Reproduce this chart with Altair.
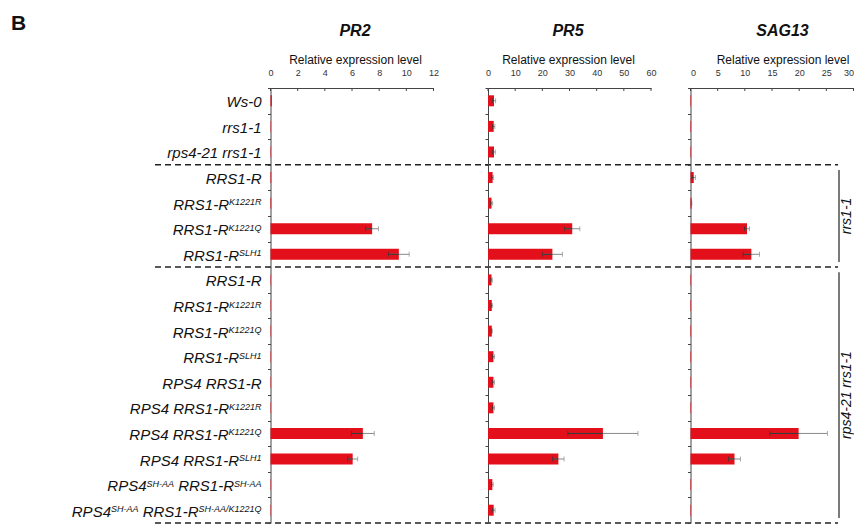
import re
import altair as alt
import pandas as pd

# ---------------- data ----------------
panel_letter = "B"
labels = [
    "Ws-0", "rrs1-1", "rps4-21 rrs1-1",
    "RRS1-R", "RRS1-R^{K1221R}", "RRS1-R^{K1221Q}", "RRS1-R^{SLH1}",
    "RRS1-R", "RRS1-R^{K1221R}", "RRS1-R^{K1221Q}", "RRS1-R^{SLH1}",
    "RPS4 RRS1-R", "RPS4 RRS1-R^{K1221R}", "RPS4 RRS1-R^{K1221Q}", "RPS4 RRS1-R^{SLH1}",
    "RPS4^{SH-AA} RRS1-R^{SH-AA}", "RPS4^{SH-AA} RRS1-R^{SH-AA/K1221Q}",
]
group_names = ["", "rrs1-1", "rps4-21 rrs1-1"]
group_sizes = [3, 4, 10]

genes = ["PR2", "PR5", "SAG13"]
axis_title = "Relative expression level"
axis_max = [12, 60, 30]
tick_values = [[0, 2, 4, 6, 8, 10, 12], [0, 10, 20, 30, 40, 50, 60], [0, 5, 10, 15, 20, 25, 30]]

pr2_mean = [0.1, 0.03, 0.03, 0.05, 0.05, 7.48, 9.45, 0.03, 0.03, 0.03, 0.03, 0.03, 0.03, 6.8, 6.05, 0.03, 0.03]
pr2_err = [0, 0, 0, 0, 0, 0.47, 0.76, 0, 0, 0, 0, 0, 0, 0.84, 0.37, 0, 0]
pr5_mean = [2.2, 2.1, 2.2, 1.7, 1.3, 31.0, 23.7, 1.3, 1.4, 1.4, 2.0, 2.0, 2.0, 42.3, 25.9, 1.6, 2.1]
pr5_err = [0.6, 0.4, 0.5, 0.3, 0.4, 2.8, 3.7, 0.3, 0.3, 0.2, 0.4, 0.4, 0.4, 12.9, 2.1, 0.3, 0.5]
sag13_mean = [0.1, 0.1, 0.1, 0.6, 0.2, 10.4, 11.2, 0.1, 0.1, 0.1, 0.1, 0.1, 0.1, 19.9, 8.1, 0.1, 0.1]
sag13_err = [0, 0, 0, 0.3, 0.05, 0.45, 1.5, 0, 0, 0, 0, 0, 0, 5.3, 1.1, 0, 0]
means = [pr2_mean, pr5_mean, sag13_mean]
errs = [pr2_err, pr5_err, sag13_err]

# ---------------- layout / style ----------------
FONT = "Liberation Sans"
RED = "#e3101b"
AXC = "#444"
X0 = 10          # page x of the label panel's left edge
TOP = 88         # page y of the plot tops
H = 435
N = len(labels)
SP = 39.5
W_L = 221
PANEL_W = [178, 163, 163.5]
PANEL_X = [270.5, 488, 690.5]
AXIS_LEN = 163
LABEL_RIGHT = 251.5
BASE_FS = 15
SUP_FS = 9
TITLE_CX = [84.5, 80, 92]

ADV = {' ': 278, '-': 333, '/': 278, 'A': 667, 'H': 722, 'K': 667, 'L': 556, 'P': 667,
       'Q': 778, 'R': 722, 'S': 667, 'W': 944, 'r': 333, 's': 500, 'p': 556}


def tw(s, size):
    return sum(ADV.get(c, 556) for c in s) * size / 1000.0


seg_rows = []
for i, lab in enumerate(labels):
    parts = [p for p in re.split(r"(\^\{[^}]*\})", lab) if p]
    segs = [(p[2:-1], True) if p.startswith("^{") else (p, False) for p in parts]
    total = sum(tw(t, SUP_FS if s else BASE_FS) for t, s in segs)
    x = LABEL_RIGHT - total
    for t, s in segs:
        fs = SUP_FS if s else BASE_FS
        lead = len(t) - len(t.lstrip(' '))
        x += tw(' ' * lead, fs)
        t2 = t.lstrip(' ')
        seg_rows.append({"pos": i + 0.5, "text": t2, "sup": s, "tx": x})
        x += tw(t2, fs)
seg_df = pd.DataFrame(seg_rows)

starts = [sum(group_sizes[:k]) for k in range(len(group_sizes))]
bounds_df = pd.DataFrame({"b": [s + n for s, n in zip(starts, group_sizes)]})
grp_df = pd.DataFrame({"name": group_names, "start": starts,
                       "end": [s + n for s, n in zip(starts, group_sizes)]})
grp_df = grp_df[grp_df["name"] != ""]

yq = alt.Scale(domain=[0, N], reverse=True, nice=False, zero=False)

anchor = alt.Chart(pd.DataFrame({"a": [0]})).mark_rule(color="white", strokeWidth=1).encode(
    x=alt.value(8 - X0 + 0.5), y=alt.value(8 - TOP + 0.5), y2=alt.value(8 - TOP + 1.5))

base_txt = alt.Chart(seg_df).transform_filter("!datum.sup").mark_text(
    align="left", baseline="alphabetic", dy=6.5, fontSize=BASE_FS, fontStyle="italic", color="#111"
).encode(x=alt.X("tx:Q", scale=None), y=alt.Y("pos:Q", scale=yq, axis=None), text="text:N")

sup_txt = alt.Chart(seg_df).transform_filter("datum.sup").mark_text(
    align="left", baseline="alphabetic", dy=2, fontSize=SUP_FS, fontStyle="italic", color="#111"
).encode(x=alt.X("tx:Q", scale=None), y=alt.Y("pos:Q", scale=yq, axis=None), text="text:N")

dashes = alt.Chart(bounds_df).mark_rule(strokeDash=[6, 4], strokeWidth=1.5, color="#222").encode(
    x=alt.value(155 - X0), x2=alt.value(838 - X0), y=alt.Y("b:Q", scale=yq, axis=None))

letter = alt.Chart(pd.DataFrame({"t": [panel_letter]})).mark_text(
    align="left", baseline="alphabetic", fontSize=21, fontWeight="bold", color="#111"
).encode(x=alt.value(1), y=alt.value(30 - TOP), text="t:N")

label_panel = alt.layer(anchor, dashes, base_txt, sup_txt, letter).properties(width=W_L, height=H)


def gene_panel(i):
    df = pd.DataFrame({"row": list(range(N)), "mean": means[i], "err": errs[i]})
    df["lo"] = df["mean"] - df["err"]
    df["hi"] = df["mean"] + df["err"]
    last = i == len(genes) - 1
    xs = alt.Scale(domain=[0, axis_max[i]], range=[0, AXIS_LEN], nice=False, zero=True)
    ysc = alt.Scale(paddingInner=0, paddingOuter=0)
    yenc = alt.Y("row:O", scale=ysc, axis=alt.Axis(
        labels=False, title=None, tickBand="extent", tickSize=3, domainColor=AXC,
        tickColor=AXC, grid=False))
    xaxis = alt.Axis(orient="top", values=tick_values[i], title=axis_title,
                     titleX=TITLE_CX[i], titleY=-25, titleAlign="center", titleBaseline="alphabetic",
                     titleFontSize=12, titleFontWeight="normal", titleColor="#111",
                     labelFontSize=9, labelPadding=12.5, labelBaseline="alphabetic", labelFlush=last,
                     labelOverlap=False, labelColor="#333", tickSize=0, domainColor=AXC,
                     tickColor=AXC, grid=False)

    def X(f):
        return alt.X(f, scale=xs, axis=xaxis)

    base = alt.Chart(df)
    bars = base.mark_bar(size=11, color=RED).encode(x=X("mean:Q"), y=yenc)
    ticks = alt.Chart(pd.DataFrame({"t": tick_values[i]})).mark_rule(color=AXC, strokeWidth=1).encode(
        x=X("t:Q"), y=alt.value(0), y2=alt.value(3))
    eb = base.transform_filter("datum.err > 0")
    whisk = eb.mark_rule(color="#8a8a8a", strokeWidth=1).encode(x=X("lo:Q"), x2="hi:Q", y=yenc)
    inner = eb.mark_rule(color="#333", strokeWidth=1).encode(x=X("lo:Q"), x2="mean:Q", y=yenc)
    cap_lo = eb.mark_tick(size=5, thickness=1, color="#333").encode(x=X("lo:Q"), y=yenc)
    cap_hi = eb.mark_tick(size=5, thickness=1, color="#8a8a8a").encode(x=X("hi:Q"), y=yenc)
    title = alt.Chart(pd.DataFrame({"g": [genes[i]]})).mark_text(
        align="center", baseline="alphabetic", fontSize=16, fontWeight="bold", fontStyle="italic",
        color="#111").encode(x=alt.value(TITLE_CX[i]), y=alt.value(36 - TOP), text="g:N")
    core = alt.layer(bars, ticks, whisk, inner, cap_lo, cap_hi, title)
    if last:
        px = PANEL_X[i]
        brackets = alt.Chart(grp_df).transform_calculate(
            y1="datum.start + 0.2", y2="datum.end - 0.2"
        ).mark_rule(strokeWidth=1.2, color="#222").encode(
            x=alt.value(839 - px), y=alt.Y("y1:Q", scale=yq, axis=None), y2="y2:Q")
        grp_txt = alt.Chart(grp_df).transform_calculate(mid="(datum.start + datum.end) / 2").mark_text(
            angle=270, align="center", baseline="alphabetic", fontSize=14, fontStyle="italic",
            color="#111", clip=True
        ).encode(x=alt.value(851 - px), y=alt.Y("mid:Q", scale=yq, axis=None), text="name:N")
        decor = alt.layer(brackets, grp_txt)
        return alt.layer(core, decor).resolve_scale(y="independent").properties(
            width=PANEL_W[i], height=H)
    return core.properties(width=PANEL_W[i], height=H)


chart = alt.hconcat(label_panel, gene_panel(0), gene_panel(1), gene_panel(2),
                    spacing=SP, bounds="flush").properties(padding=0).configure(
    font=FONT).configure_view(stroke=None).configure_axis(labelOverlap=False)

chart.save("out.html", embed_options={"renderer": "svg", "actions": False})
